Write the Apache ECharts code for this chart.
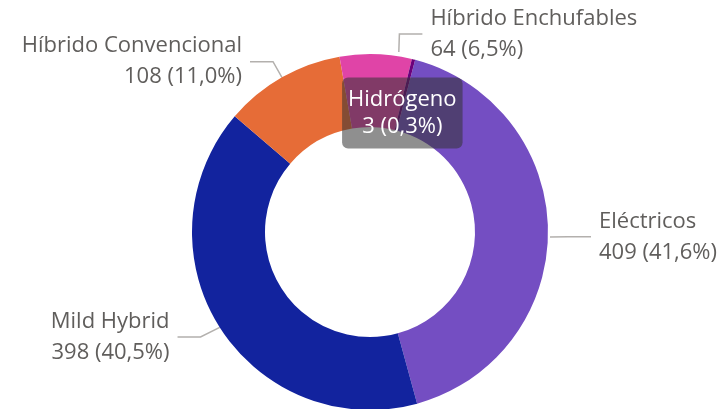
<!DOCTYPE html>
<html>
<head>
<meta charset="utf-8">
<script src="https://cdn.jsdelivr.net/npm/echarts@6/dist/echarts.min.js"></script>
<style>
html,body{margin:0;padding:0;background:#fff;}
#main{width:728px;height:409px;}
</style>
</head>
<body>
<div id="main"></div>
<script>
var categories = ['Eléctricos', 'Mild Hybrid', 'Híbrido Convencional', 'Híbrido Enchufables', 'Hidrógeno'];
var values = [409, 398, 108, 64, 3];
var colors = ['#744EC2', '#12239E', '#E66C37', '#E044A7', '#6B007B'];

var total = values.reduce(function(a, b){ return a + b; }, 0);

function pct(v){
	return (v / total * 100).toFixed(1).replace('.', ',');
}

var seriesData = [];
for (var i = 0; i < categories.length; i++) {
	var item = {name: categories[i], value: values[i], itemStyle: {color: colors[i]}};
	if (categories[i] === 'Hidrógeno') {
		// el de hidrógeno va dentro, en caja gris
		item.label = {
			position: 'inside',
			color: '#fff',
			fontSize: 22,
			lineHeight: 27,
			backgroundColor: 'rgba(51,51,51,0.55)',
			borderRadius: 6,
			padding: [8, 6, 9, 6],
			align: 'center'
		};
		item.labelLine = {show: false};
	}
	seriesData.push(item);
}

// pequeños ajustes de las etiquetas [dx, dy]
var shifts = {0: [2, 6], 1: [-4, 0], 3: [23, -2]};

var myChart = echarts.init(document.getElementById('main'));
var option = {
	animation: false,
	textStyle: {fontFamily: 'Open Sans'},
	series: [
		{
			type: 'pie',
			center: [370, 232],
			radius: [105, 178],
			startAngle: 75.3,
			clockwise: true,
			avoidLabelOverlap: false,
			data: seriesData,
			label: {
				show: true,
				position: 'outside',
				color: '#605E5C',
				fontSize: 22,
				lineHeight: 31,
				fontFamily: 'Open Sans',
				distanceToLabelLine: 8,
				formatter: function(p){
					return p.name + '\n' + p.value + ' (' + pct(p.value) + '%)';
				}
			},
			labelLine: {
				show: true,
				length: 18,
				length2: 23,
				lineStyle: {color: '#B3B0AD', width: 1.5}
			},
			labelLayout: function(params){
				if (params.dataIndex === 4) {
					return {dx: -3, dy: 21};
				}
				var s = shifts[params.dataIndex];
				if (s && params.labelLinePoints) {
					var pts = params.labelLinePoints.map(function(p, k){
						if (params.dataIndex === 1 && k === 0) return [p[0], p[1]];
						return [p[0] + s[0], p[1] + s[1]];
					});
					return {dx: s[0], dy: s[1], labelLinePoints: pts};
				}
			}
		}
	]
};
myChart.setOption(option);
</script>
</body>
</html>
